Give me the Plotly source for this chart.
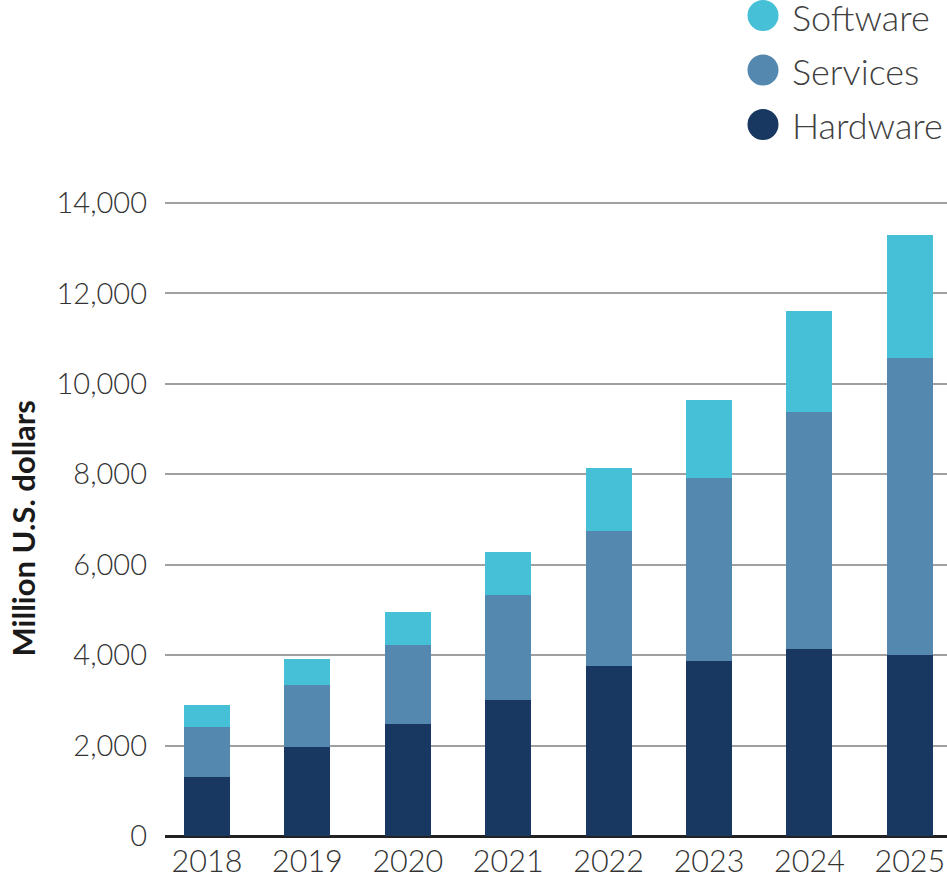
import plotly.graph_objects as go

years = ["2018", "2019", "2020", "2021", "2022", "2023", "2024", "2025"]
hardware = [1300, 1960, 2470, 3010, 3770, 3870, 4130, 4000]
services = [1120, 1375, 1755, 2315, 2980, 4050, 5240, 6570]
software = [480, 580, 740, 960, 1400, 1725, 2235, 2715]

series_names = ["Hardware", "Services", "Software"]
series_colors = ["#183761", "#5488AE", "#46C0D6"]
y_ticks = [0, 2000, 4000, 6000, 8000, 10000, 12000, 14000]
y_title = "Million U.S. dollars"

W, H = 947, 879
L, R, T, B = 165, 0, 199, 43
PW, PH = W - L - R, H - T - B
Y_TOP = 14000 * PH / 633.0

fig = go.Figure()
for name, vals, col in zip(series_names, [hardware, services, software], series_colors):
    fig.add_trace(go.Bar(x=years, y=vals, name=name, marker=dict(color=col, line=dict(width=0)),
                         showlegend=False))

FONT = "Lato, 'Open Sans', sans-serif"

def px_x(px):
    return (px - L) / PW

def px_y(py):
    return (H - B - py) / PH

# manual legend (large circle markers)
legend_items = list(zip(series_names, series_colors))[::-1]
legend_y = [15.5, 70, 124.5]
shapes = []
annotations = []
for (name, col), py in zip(legend_items, legend_y):
    shapes.append(dict(type="circle", xref="paper", yref="paper", xsizemode="pixel", ysizemode="pixel",
                       xanchor=px_x(763), yanchor=px_y(py), x0=-15.5, x1=15.5, y0=-15.5, y1=15.5,
                       fillcolor=col, line=dict(width=0)))
    annotations.append(dict(text=name, xref="paper", yref="paper", x=px_x(790), y=px_y(py + 1),
                            xanchor="left", yanchor="middle", showarrow=False,
                            font=dict(family=FONT, size=36, color="#404040", weight=300)))

annotations.append(dict(text=y_title, xref="paper", yref="paper", x=px_x(22), y=px_y(528.5),
                        xanchor="center", yanchor="middle", textangle=-90, showarrow=False,
                        font=dict(family=FONT, size=31, color="#1a1a1a", weight="bold")))

fig.update_layout(
    width=W, height=H,
    margin=dict(l=L, r=R, t=T, b=B, autoexpand=False),
    barmode="stack", bargap=0.542,
    plot_bgcolor="white", paper_bgcolor="white",
    shapes=shapes, annotations=annotations,
    font=dict(family=FONT, color="#333333"),
    xaxis=dict(type="category", range=[-0.418, 7.37], showgrid=False, ticks="",
               ticklabelstandoff=4,
               tickfont=dict(family=FONT, size=30.5, color="#333333", weight=300),
               showline=False, zeroline=False, fixedrange=True),
    yaxis=dict(range=[0, Y_TOP], tickvals=y_ticks, tickformat=",d", showgrid=True,
               gridcolor="#A0A0A0", gridwidth=2, zeroline=True, zerolinecolor="#222222",
               zerolinewidth=2.5, ticks="", ticklabelstandoff=17,
               tickfont=dict(family=FONT, size=29, color="#333333", weight=300),
               showline=False, fixedrange=True),
)

fig.write_html("out.html", config={"displayModeBar": False},
               post_script="document.body.style.margin='0';document.body.style.overflow='hidden';")
